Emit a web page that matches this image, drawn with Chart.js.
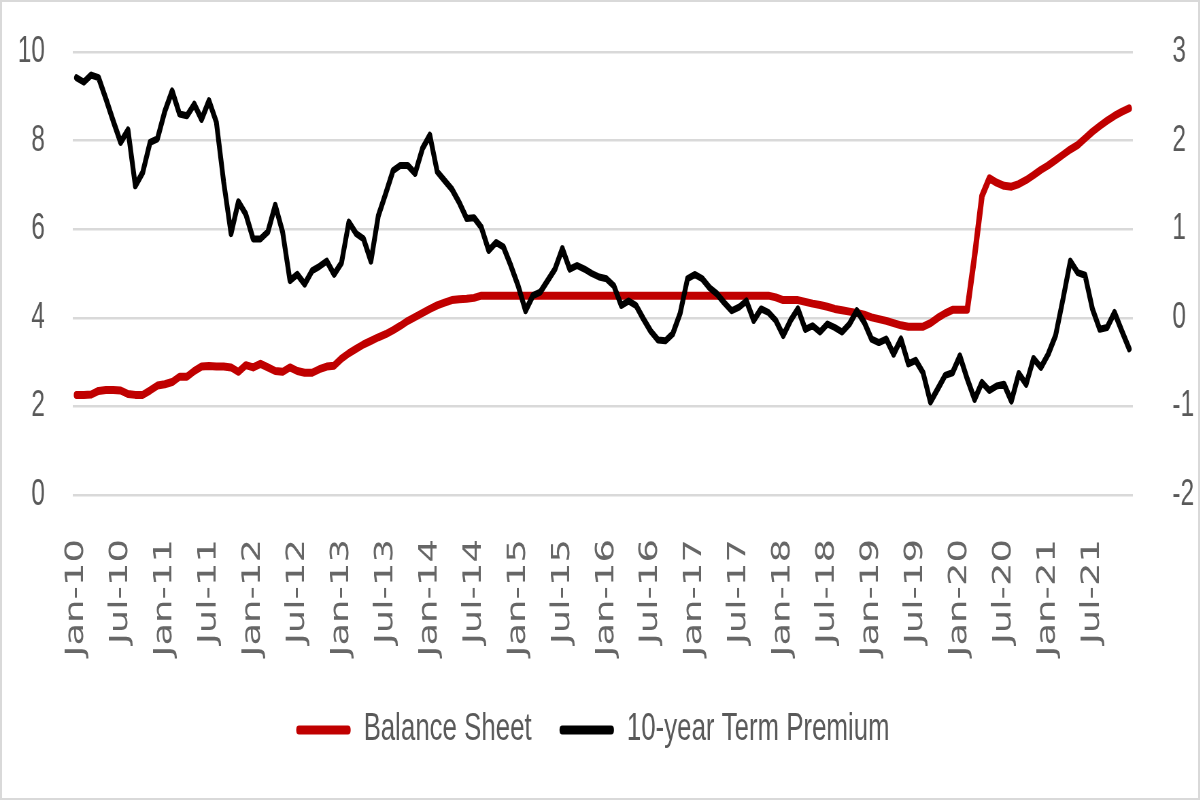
<!DOCTYPE html>
<html>
<head>
<meta charset="utf-8">
<script src="https://cdn.jsdelivr.net/npm/chart.js@4.4.0/dist/chart.umd.min.js"></script>
<style>
    html, body { margin: 0; padding: 0; background: #fff; }
    #wrap { position: relative; width: 1200px; height: 800px; overflow: hidden; background: #fff; }
    /* the source picture is squeezed sideways, so draw wide and squeeze */
    #squeeze { width: 1765px; height: 800px; transform: scaleX(0.68); transform-origin: 0 0; }
    #frame { position: absolute; left: 0; top: 0; width: 1200px; height: 800px; box-sizing: border-box; border: 2px solid #d9d9d9; pointer-events: none; }
</style>
</head>
<body>
<div id="wrap">
    <div id="squeeze"><canvas id="myChart" width="1765" height="800"></canvas></div>
    <div id="frame"></div>
</div>
<script>
const monthNames = ['Jan', 'Feb', 'Mar', 'Apr', 'May', 'Jun', 'Jul', 'Aug', 'Sep', 'Oct', 'Nov', 'Dec'];
const years = ['10', '11', '12', '13', '14', '15', '16', '17', '18', '19', '20', '21'];

// Fed balance sheet, left axis (monthly, Jan-10 .. Dec-21)
const balanceSheet = [
    2.26, 2.26, 2.27, 2.35, 2.37, 2.37, 2.36, 2.28, 2.26, 2.26, 2.36, 2.47,
    2.50, 2.55, 2.67, 2.67, 2.80, 2.90, 2.91, 2.90, 2.90, 2.88, 2.78, 2.93,
    2.88, 2.96, 2.88, 2.80, 2.78, 2.88, 2.80, 2.76, 2.76, 2.84, 2.90, 2.92,
    3.08, 3.20, 3.30, 3.40, 3.48, 3.56, 3.63, 3.72, 3.82, 3.93, 4.02, 4.11,
    4.20, 4.28, 4.34, 4.40, 4.42, 4.43, 4.45, 4.50, 4.50, 4.50, 4.50, 4.50,
    4.50, 4.50, 4.50, 4.50, 4.50, 4.50, 4.50, 4.50, 4.50, 4.50, 4.50, 4.50,
    4.50, 4.50, 4.50, 4.50, 4.50, 4.50, 4.50, 4.50, 4.50, 4.50, 4.50, 4.50,
    4.50, 4.50, 4.50, 4.50, 4.50, 4.50, 4.50, 4.50, 4.50, 4.50, 4.50, 4.46,
    4.40, 4.40, 4.40, 4.36, 4.32, 4.29, 4.25, 4.20, 4.17, 4.14, 4.11, 4.07,
    4.01, 3.97, 3.93, 3.88, 3.83, 3.80, 3.80, 3.80, 3.88, 4.00, 4.10, 4.18,
    4.18, 4.18, 5.40, 6.75, 7.15, 7.05, 6.98, 6.96, 7.02, 7.11, 7.22, 7.34,
    7.44, 7.56, 7.68, 7.80, 7.90, 8.05, 8.20, 8.33, 8.45, 8.56, 8.65, 8.73
];

// 10-year term premium, right axis
const termPremium = [
    2.71, 2.66, 2.74, 2.71, 2.47, 2.22, 1.98, 2.12, 1.49, 1.64, 1.98, 2.02,
    2.33, 2.56, 2.30, 2.28, 2.41, 2.24, 2.45, 2.21, 1.53, 0.95, 1.31, 1.17,
    0.89, 0.89, 0.97, 1.27, 0.97, 0.42, 0.49, 0.38, 0.53, 0.58, 0.64, 0.49,
    0.62, 1.08, 0.95, 0.89, 0.64, 1.15, 1.40, 1.66, 1.72, 1.72, 1.63, 1.91,
    2.06, 1.65, 1.55, 1.45, 1.30, 1.12, 1.13, 1.02, 0.76, 0.85, 0.80, 0.59,
    0.36, 0.08, 0.25, 0.29, 0.42, 0.55, 0.78, 0.55, 0.59, 0.55, 0.50, 0.46,
    0.44, 0.36, 0.14, 0.19, 0.14, -0.01, -0.15, -0.25, -0.26, -0.18, 0.05, 0.44,
    0.49, 0.44, 0.34, 0.27, 0.17, 0.08, 0.12, 0.19, -0.03, 0.10, 0.06, -0.03,
    -0.20, -0.03, 0.10, -0.13, -0.09, -0.16, -0.07, -0.11, -0.16, -0.07, 0.08, -0.05,
    -0.24, -0.28, -0.24, -0.41, -0.24, -0.52, -0.48, -0.62, -0.95, -0.80, -0.65, -0.62,
    -0.43, -0.69, -0.92, -0.73, -0.82, -0.77, -0.75, -0.94, -0.63, -0.75, -0.46, -0.56,
    -0.41, -0.20, 0.21, 0.64, 0.51, 0.48, 0.10, -0.13, -0.11, 0.06, -0.15, -0.35
];

const leftTicks = [0, 2, 4, 6, 8, 10];
const rightTicks = [-2, -1, 0, 1, 2, 3];

let labels = [];
years.forEach(y => monthNames.forEach(m => labels.push(m + '-' + y)));

const grey = '#595959';
const tickFont = { family: '"Liberation Sans", Arial, sans-serif', size: 36 };

// fixed axis widths; drop the label overhang so the plot top stays put
function fixWidth(w) {
    return function (scale) {
        scale.width = w;
        scale.paddingTop = 0;
        scale.paddingBottom = 0;
    };
}

let ctx = document.getElementById('myChart').getContext('2d');
let chart = new Chart(ctx, {
    type: 'line',
    data: {
        labels: labels,
        datasets: [{
            label: 'Balance Sheet',
            data: balanceSheet,
            yAxisID: 'y',
            borderColor: '#c00000',
            backgroundColor: '#c00000',
            borderWidth: 8,
            pointRadius: 0,
            tension: 0,
            borderJoinStyle: 'round',
            borderCapStyle: 'round',
            order: 1
        }, {
            label: '10-year Term Premium',
            data: termPremium,
            yAxisID: 'y1',
            borderColor: '#000000',
            backgroundColor: '#000000',
            borderWidth: 7,
            pointRadius: 0,
            tension: 0,
            borderJoinStyle: 'round',
            borderCapStyle: 'round',
            order: 0
        }]
    },
    options: {
        responsive: false,
        animation: false,
        devicePixelRatio: 1,
        layout: {
            padding: { top: 52, bottom: 41, left: 0, right: 0 }
        },
        plugins: {
            tooltip: { enabled: false },
            legend: {
                position: 'bottom',
                labels: {
                    color: grey,
                    font: { family: '"Liberation Sans", Arial, sans-serif', size: 38 },
                    boxWidth: 80,
                    boxHeight: 9,
                    padding: 41,
                    useBorderRadius: true,
                    borderRadius: 4,
                    sort: (a, b) => a.datasetIndex - b.datasetIndex,
                    generateLabels: function (chart) {
                        const items = Chart.defaults.plugins.legend.labels.generateLabels(chart);
                        items.forEach(item => { item.lineWidth = 0; });
                        // a little more room between the two entries
                        items[0].text = items[0].text + '\u00a0\u00a0';
                        return items;
                    }
                }
            }
        },
        scales: {
            x: {
                offset: true,
                grid: { display: false },
                border: { display: false },
                afterFit: function (scale) { scale.height = 175; },
                ticks: {
                    autoSkip: false,
                    minRotation: 90,
                    maxRotation: 90,
                    padding: 36,
                    color: '#666666',
                    font: { family: '"DejaVu Sans", sans-serif', size: 37 },
                    callback: function (value, index) {
                        return index % 6 === 0 ? this.getLabelForValue(value) : '';
                    }
                }
            },
            y: {
                position: 'left',
                min: leftTicks[0],
                max: leftTicks[leftTicks.length - 1],
                afterBuildTicks: function (scale) { scale.ticks = leftTicks.map(v => ({ value: v })); },
                afterFit: fixWidth(107),
                grid: { color: '#d9d9d9', lineWidth: 2.5, drawTicks: false },
                border: { display: false },
                ticks: { color: grey, font: tickFont, padding: 41 }
            },
            y1: {
                position: 'right',
                min: rightTicks[0],
                max: rightTicks[rightTicks.length - 1],
                afterBuildTicks: function (scale) { scale.ticks = rightTicks.map(v => ({ value: v })); },
                afterFit: fixWidth(99),
                grid: { display: false, drawTicks: false },
                border: { display: false },
                ticks: { color: grey, font: tickFont, padding: 58 }
            }
        }
    }
});
</script>
</body>
</html>
